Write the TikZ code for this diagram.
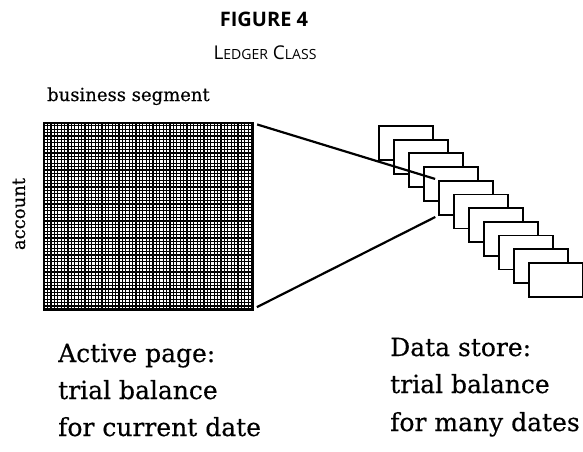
\documentclass[tikz,border=0pt]{standalone}
\usepackage{fontspec}
\setmainfont{DejaVu Serif}[FakeBold=0.4]
\newfontfamily\titlefont{Open Sans}
\usetikzlibrary{calc}
\newcommand\fakesc[1]{{\fontsize{14}{16}\selectfont #1}}
\begin{document}
\begin{tikzpicture}[x=1pt,y=-1pt,
  pagebox/.style={draw, fill=white, line width=1.8pt, minimum width=54pt, minimum height=34pt, inner sep=0pt, anchor=north west},
  link/.style={line width=2.2pt, shorten <=5pt, shorten >=3pt},
  lbl/.style={font=\fontsize{18}{20}\selectfont, inner sep=0pt},
  big/.style={font=\fontsize{25}{30}\selectfont, inner sep=0pt, anchor=base west},
  gridline/.style={line width=1.35pt},
]
\useasboundingbox (0,0) rectangle (583,451);
% titles
\node[font=\titlefont\bfseries\fontsize{20}{22}\selectfont, anchor=base, inner sep=0pt] (t1) at (264,26) {FIGURE 4};
\node[font=\titlefont\fontsize{19}{22}\selectfont, anchor=base, inner sep=0pt] (t2) at (265,59) {L\fakesc{EDGER} C\fakesc{LASS}};
% active page
\node[lbl, anchor=base west] (bs) at (47,101) {business segment};
\node[lbl, rotate=90] (acc) at (19,214) {account};
\node[minimum width=208pt, minimum height=186pt, inner sep=0pt, anchor=north west] (sq) at (44,123) {};
\draw[gridline, step=3.4pt] (sq.south west) grid (sq.north east);
\draw[line width=2.6pt] (sq.south west) rectangle (sq.north east);
% data store
\foreach \i in {0,...,10} {
  \node[pagebox] (b\i) at (378+15*\i, 125+13.7*\i) {};
}
\draw[link] (sq.north east) -- (b4.north west);
\draw[link] (sq.south east) -- (b4.south west);
% captions
\node[big] (a1) at (58,362) {Active page:};
\node[big] (a2) at (58,399) {trial balance};
\node[big] (a3) at (58,436) {for current date};
\node[big] (d1) at (390,356) {Data store:};
\node[big] (d2) at (390,393) {trial balance};
\node[big] (d3) at (390,431) {for many dates};
\end{tikzpicture}
\end{document}
